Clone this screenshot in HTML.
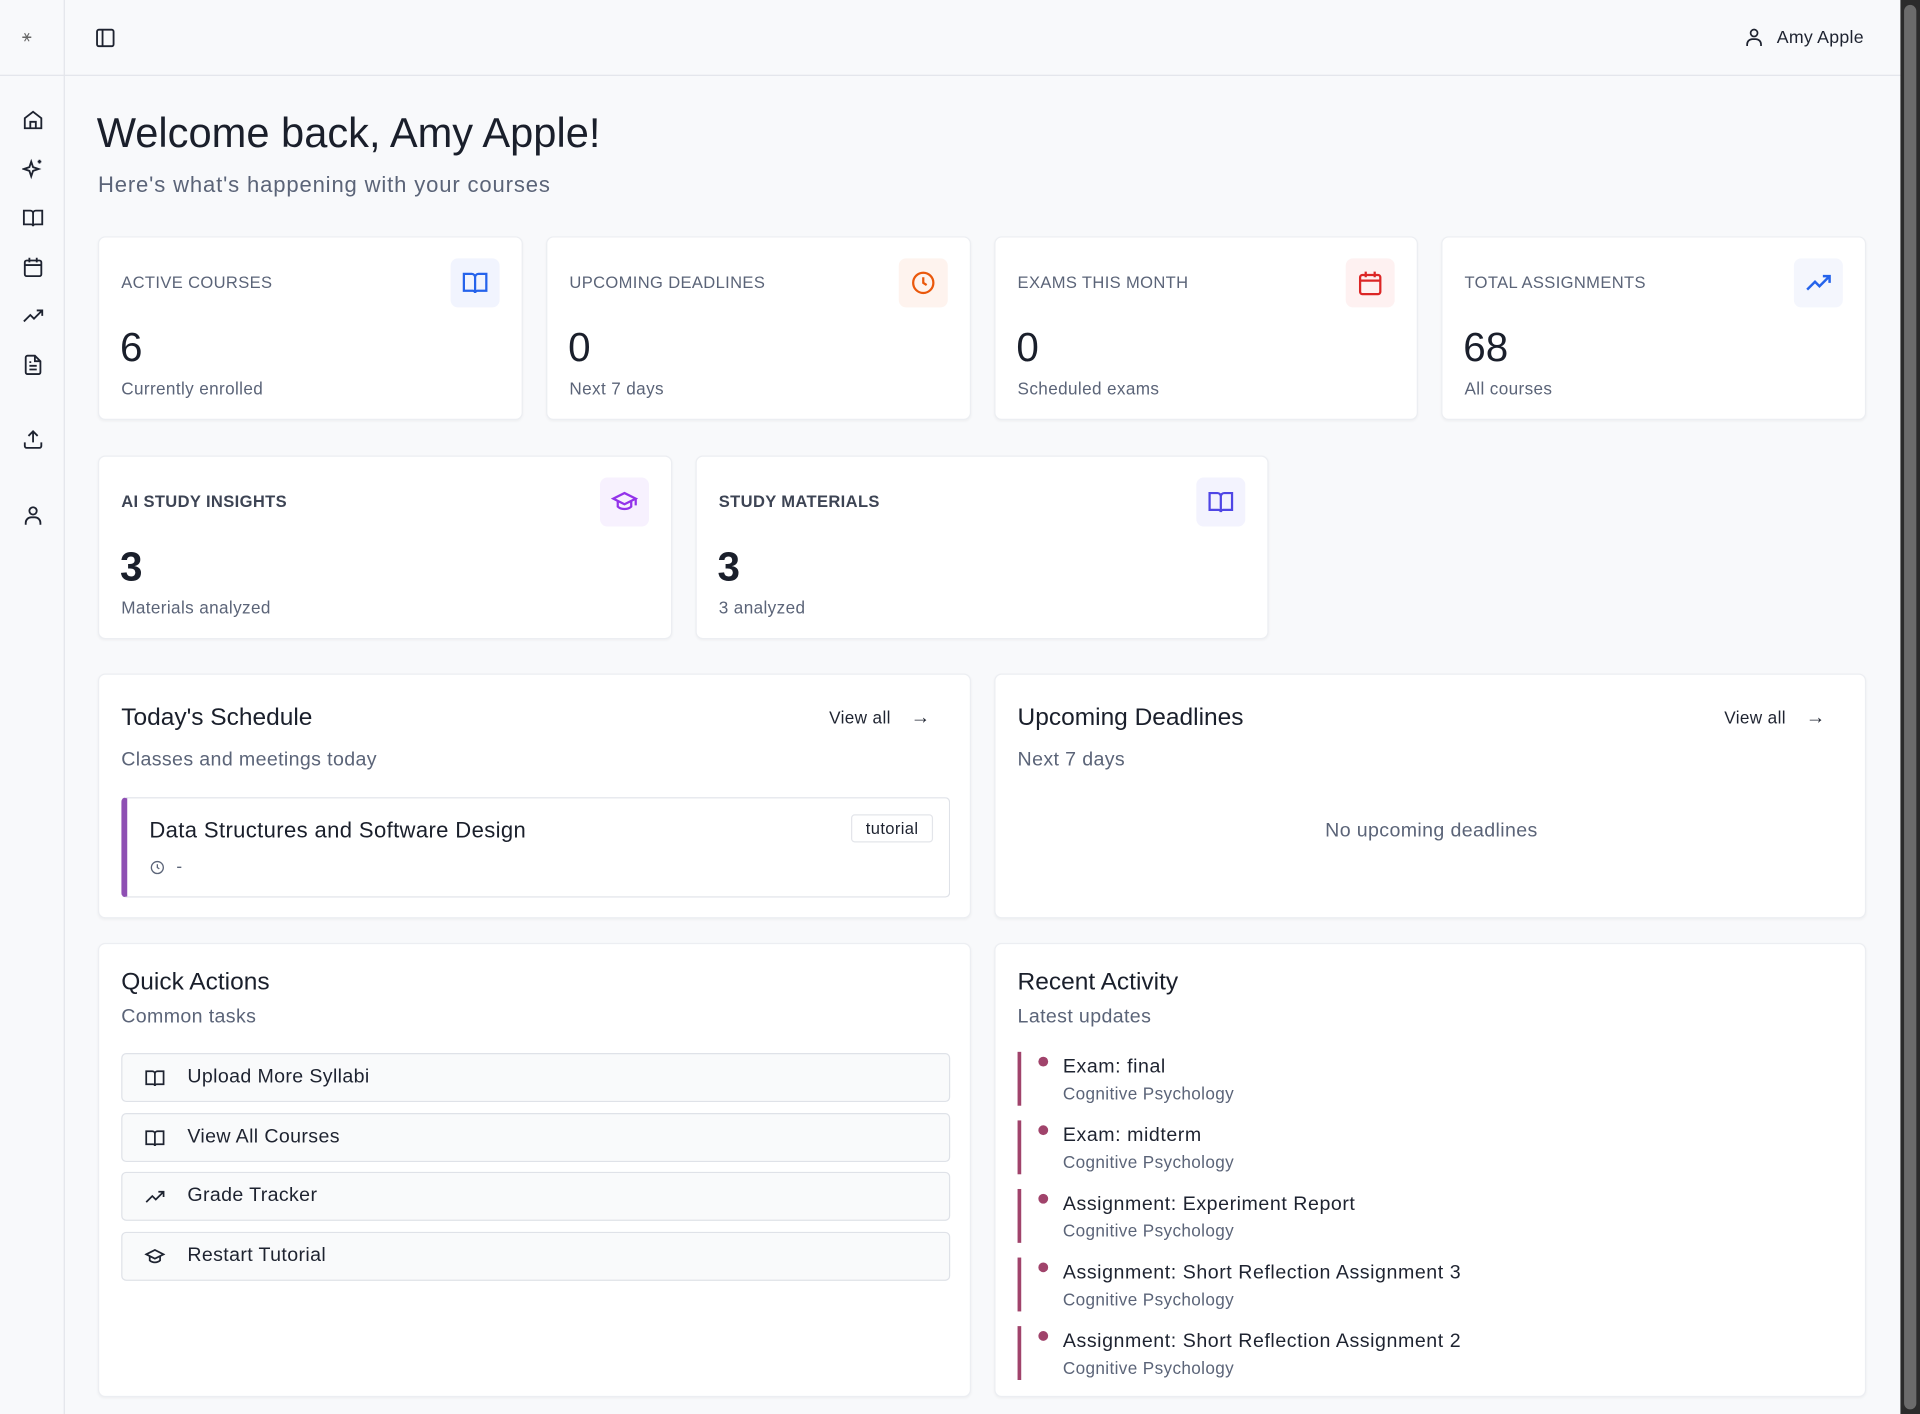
<!DOCTYPE html>
<html><head><meta charset="utf-8">
<style>
*{box-sizing:border-box;margin:0;padding:0}
html,body{width:1920px;height:1414px;overflow:hidden;background:#f8f9fb}
#w{position:absolute;left:0;top:0;width:1568px;height:1155px;transform:scale(1.22449);transform-origin:0 0;font-family:"Liberation Sans",sans-serif;color:#1e2330;background:#f8f9fb;letter-spacing:.3px}
.a{position:absolute}
.card{position:absolute;background:#fff;border:1px solid #eceef2;border-radius:6px;box-shadow:0 1px 2px rgba(0,0,0,.04)}
.lbl{position:absolute;left:18px;top:29px;font-size:13.5px;letter-spacing:.3px;color:#5b6478}
.num{position:absolute;left:17px;top:71px;font-size:33px;color:#1a1f2b;letter-spacing:0}
.sub{position:absolute;left:18px;top:115px;font-size:14px;color:#5b6478}
.ib{position:absolute;right:18px;top:17px;width:40px;height:40px;border-radius:6px;display:flex;align-items:center;justify-content:center}
svg{display:block}
.t{position:absolute;left:18px;top:24px;font-size:20px;color:#1a1f2b;letter-spacing:0}
.st{position:absolute;left:18px;top:61px;font-size:16px;color:#5b6478}
.btn{position:absolute;left:18px;width:677px;height:40px;border:1px solid #dfe2e8;border-radius:4px;background:#f9fafb;font-size:16px;color:#1e2330}
.btn span{position:absolute;left:53px;top:10px}
.btn svg{position:absolute;left:18px;top:11px}
.act{position:absolute;left:18px;width:600px;height:44px;border-left:3px solid #a0436b}
.act .d{position:absolute;left:14px;top:4px;width:8px;height:8px;border-radius:50%;background:#a0436b}
.act .x{position:absolute;left:34px;top:4px;font-size:16px;color:#1e2330;letter-spacing:.45px}
.act .y{position:absolute;left:34px;top:26px;font-size:14px;color:#5b6478}
.va{position:absolute;right:32px;top:27px;font-size:14px;color:#1e2330}
</style></head><body><div id="w">
<div class="a" style="left:0;top:0;width:53px;height:1155px;border-right:1px solid #e3e5ea"></div>
<div class="a" style="left:0;top:61px;width:1552px;height:1px;background:#e3e5ea"></div>
<div class="a" style="left:18px;top:22px;width:16px;height:18px;color:#666;font-size:13px">⚹</div>
<svg class="a" style="left:18px;top:89px" width="18" height="18" viewBox="0 0 24 24" fill="none" stroke="#1e2330" stroke-width="2"><path d="M3 10l9-7 9 7v11H3z"/><path d="M9 21v-7h6v7"/></svg>
<svg class="a" style="left:18px;top:129px" width="18" height="18" viewBox="0 0 24 24" fill="none" stroke="#1e2330" stroke-width="2"><path d="M10 4l2 6 6 2-6 2-2 6-2-6-6-2 6-2z"/><path d="M19 2v4M17 4h4"/></svg>
<svg class="a" style="left:18px;top:169px" width="18" height="18" viewBox="0 0 24 24" fill="none" stroke="#1e2330" stroke-width="2"><path d="M2 4h7a3 3 0 013 3v14a2 2 0 00-2-2H2zM22 4h-7a3 3 0 00-3 3v14a2 2 0 012-2h8z"/></svg>
<svg class="a" style="left:18px;top:209px" width="18" height="18" viewBox="0 0 24 24" fill="none" stroke="#1e2330" stroke-width="2"><rect x="3" y="5" width="18" height="17" rx="2"/><path d="M3 10h18M8 2v5M16 2v5"/></svg>
<svg class="a" style="left:18px;top:249px" width="18" height="18" viewBox="0 0 24 24" fill="none" stroke="#1e2330" stroke-width="2"><path d="M2 18l7-7 4 4 9-9M16 6h6v6"/></svg>
<svg class="a" style="left:18px;top:289px" width="18" height="18" viewBox="0 0 24 24" fill="none" stroke="#1e2330" stroke-width="2"><path d="M14 2H6a2 2 0 00-2 2v16a2 2 0 002 2h12a2 2 0 002-2V8z"/><path d="M14 2v6h6M8 13h8M8 17h8M8 9h2"/></svg>
<svg class="a" style="left:18px;top:350px" width="18" height="18" viewBox="0 0 24 24" fill="none" stroke="#1e2330" stroke-width="2"><path d="M21 15v4a2 2 0 01-2 2H5a2 2 0 01-2-2v-4M17 8l-5-5-5 5M12 3v12"/></svg>
<svg class="a" style="left:18px;top:412px" width="18" height="18" viewBox="0 0 24 24" fill="none" stroke="#1e2330" stroke-width="2"><circle cx="12" cy="7" r="4"/><path d="M4 22v-2a6 6 0 016-6h4a6 6 0 016 6v2"/></svg>
<svg class="a" style="left:77px;top:22px" width="18" height="18" viewBox="0 0 24 24" fill="none" stroke="#1e2330" stroke-width="2"><rect x="3" y="3" width="18" height="18" rx="2"/><path d="M9 3v18"/></svg>
<svg class="a" style="left:1424px;top:22px" width="17" height="17" viewBox="0 0 24 24" fill="none" stroke="#1e2330" stroke-width="2"><circle cx="12" cy="7" r="4"/><path d="M4 22v-2a6 6 0 016-6h4a6 6 0 016 6v2"/></svg>
<div class="a" style="left:1451px;top:23px;font-size:14.5px;letter-spacing:.2px">Amy Apple</div>
<div class="a" style="left:1552px;top:0;width:16px;height:1155px;background:#2b2b2b"></div>
<div class="a" style="left:1555px;top:4px;width:10px;height:1147px;background:#6b6b6b;border-radius:5px"></div>
<div class="a" style="left:79px;top:90px;font-size:34px;color:#1a1f2b;letter-spacing:0">Welcome back, Amy Apple!</div>
<div class="a" style="left:80px;top:141px;font-size:18px;color:#5b6478;letter-spacing:.7px">Here's what's happening with your courses</div>
<div class="card" style="left:80px;top:193px;width:347px;height:150px"><div class="lbl">ACTIVE COURSES</div><div class="ib" style="background:#f1f4fe"><svg width="22" height="22" viewBox="0 0 24 24" fill="none" stroke="#2563eb" stroke-width="2"><path d="M2 4h7a3 3 0 013 3v14a2 2 0 00-2-2H2zM22 4h-7a3 3 0 00-3 3v14a2 2 0 012-2h8z"/></svg></div><div class="num">6</div><div class="sub">Currently enrolled</div></div>
<div class="card" style="left:446px;top:193px;width:347px;height:150px"><div class="lbl">UPCOMING DEADLINES</div><div class="ib" style="background:#fef3ee"><svg width="22" height="22" viewBox="0 0 24 24" fill="none" stroke="#ea580c" stroke-width="2"><circle cx="12" cy="12" r="9"/><path d="M12 7v5l3 2"/></svg></div><div class="num">0</div><div class="sub">Next 7 days</div></div>
<div class="card" style="left:812px;top:193px;width:346px;height:150px"><div class="lbl">EXAMS THIS MONTH</div><div class="ib" style="background:#fef1f1"><svg width="22" height="22" viewBox="0 0 24 24" fill="none" stroke="#dc2626" stroke-width="2"><rect x="3" y="5" width="18" height="17" rx="2"/><path d="M3 10h18M8 2v5M16 2v5"/></svg></div><div class="num">0</div><div class="sub">Scheduled exams</div></div>
<div class="card" style="left:1177px;top:193px;width:347px;height:150px"><div class="lbl">TOTAL ASSIGNMENTS</div><div class="ib" style="background:#f4f6fd"><svg width="22" height="22" viewBox="0 0 24 24" fill="none" stroke="#2563eb" stroke-width="2.2"><path d="M2 18l7-7 4 4 9-9M16 6h6v6"/></svg></div><div class="num">68</div><div class="sub">All courses</div></div>
<div class="card" style="left:80px;top:372px;width:469px;height:150px"><div class="lbl" style="font-weight:bold;color:#3d4454;letter-spacing:.3px">AI STUDY INSIGHTS</div><div class="ib" style="background:#f7f1fe"><svg width="22" height="22" viewBox="0 0 24 24" fill="none" stroke="#9333ea" stroke-width="2"><path d="M2 9l10-5 10 5-10 5z"/><path d="M6 11v5c3 3 9 3 12 0v-5M22 9v6"/></svg></div><div class="num" style="font-weight:bold">3</div><div class="sub">Materials analyzed</div></div>
<div class="card" style="left:568px;top:372px;width:468px;height:150px"><div class="lbl" style="font-weight:bold;color:#3d4454;letter-spacing:.3px">STUDY MATERIALS</div><div class="ib" style="background:#f3f3fe"><svg width="22" height="22" viewBox="0 0 24 24" fill="none" stroke="#4f46e5" stroke-width="2"><path d="M2 4h7a3 3 0 013 3v14a2 2 0 00-2-2H2zM22 4h-7a3 3 0 00-3 3v14a2 2 0 012-2h8z"/></svg></div><div class="num" style="font-weight:bold">3</div><div class="sub">3 analyzed</div></div>
<div class="card" style="left:80px;top:550px;width:713px;height:200px">
<div class="t">Today's Schedule</div><div class="st">Classes and meetings today</div>
<div class="va">View all <span style="margin-left:12px;font-size:16px">→</span></div>
<div class="a" style="left:18px;top:100px;width:677px;height:82px;border:1px solid #dfe2e8;border-left:5px solid #8e4fb3;border-radius:4px">
<div class="a" style="left:18px;top:16px;font-size:18px;color:#1a1f2b">Data Structures and Software Design</div>
<div class="a" style="right:13px;top:13px;border:1px solid #e3e5ea;border-radius:3px;padding:3px 11px;font-size:13.5px">tutorial</div>
<svg class="a" style="left:18px;top:50px" width="13" height="13" viewBox="0 0 24 24" fill="none" stroke="#5b6478" stroke-width="2"><circle cx="12" cy="12" r="9"/><path d="M12 7v5l3 2"/></svg>
<div class="a" style="left:40px;top:47px;font-size:14px;color:#5b6478">-</div>
</div></div>
<div class="card" style="left:812px;top:550px;width:712px;height:200px">
<div class="t">Upcoming Deadlines</div><div class="st">Next 7 days</div>
<div class="va">View all <span style="margin-left:12px;font-size:16px">→</span></div>
<div class="a" style="left:0;width:712px;top:119px;text-align:center;font-size:16px;color:#5b6478">No upcoming deadlines</div>
</div>
<div class="card" style="left:80px;top:770px;width:713px;height:371px">
<div class="t" style="top:20px">Quick Actions</div><div class="st" style="top:51px">Common tasks</div>
<div class="btn" style="top:89px"><svg width="17" height="17" viewBox="0 0 24 24" fill="none" stroke="#1e2330" stroke-width="2"><path d="M2 4h7a3 3 0 013 3v14a2 2 0 00-2-2H2zM22 4h-7a3 3 0 00-3 3v14a2 2 0 012-2h8z"/></svg><span>Upload More Syllabi</span></div>
<div class="btn" style="top:138px"><svg width="17" height="17" viewBox="0 0 24 24" fill="none" stroke="#1e2330" stroke-width="2"><path d="M2 4h7a3 3 0 013 3v14a2 2 0 00-2-2H2zM22 4h-7a3 3 0 00-3 3v14a2 2 0 012-2h8z"/></svg><span>View All Courses</span></div>
<div class="btn" style="top:186px"><svg width="17" height="17" viewBox="0 0 24 24" fill="none" stroke="#1e2330" stroke-width="2"><path d="M2 18l7-7 4 4 9-9M16 6h6v6"/></svg><span>Grade Tracker</span></div>
<div class="btn" style="top:235px"><svg width="17" height="17" viewBox="0 0 24 24" fill="none" stroke="#1e2330" stroke-width="2"><path d="M2 9l10-5 10 5-10 5z"/><path d="M6 11v5c3 3 9 3 12 0v-5"/></svg><span>Restart Tutorial</span></div>
</div>
<div class="card" style="left:812px;top:770px;width:712px;height:371px">
<div class="t" style="top:20px">Recent Activity</div><div class="st" style="top:51px">Latest updates</div>
<div class="act" style="top:88px"><div class="d"></div><div class="x">Exam: final</div><div class="y">Cognitive Psychology</div></div>
<div class="act" style="top:144px"><div class="d"></div><div class="x">Exam: midterm</div><div class="y">Cognitive Psychology</div></div>
<div class="act" style="top:200px"><div class="d"></div><div class="x">Assignment: Experiment Report</div><div class="y">Cognitive Psychology</div></div>
<div class="act" style="top:256px"><div class="d"></div><div class="x">Assignment: Short Reflection Assignment 3</div><div class="y">Cognitive Psychology</div></div>
<div class="act" style="top:312px"><div class="d"></div><div class="x">Assignment: Short Reflection Assignment 2</div><div class="y">Cognitive Psychology</div></div>
</div>
</div></body></html>
